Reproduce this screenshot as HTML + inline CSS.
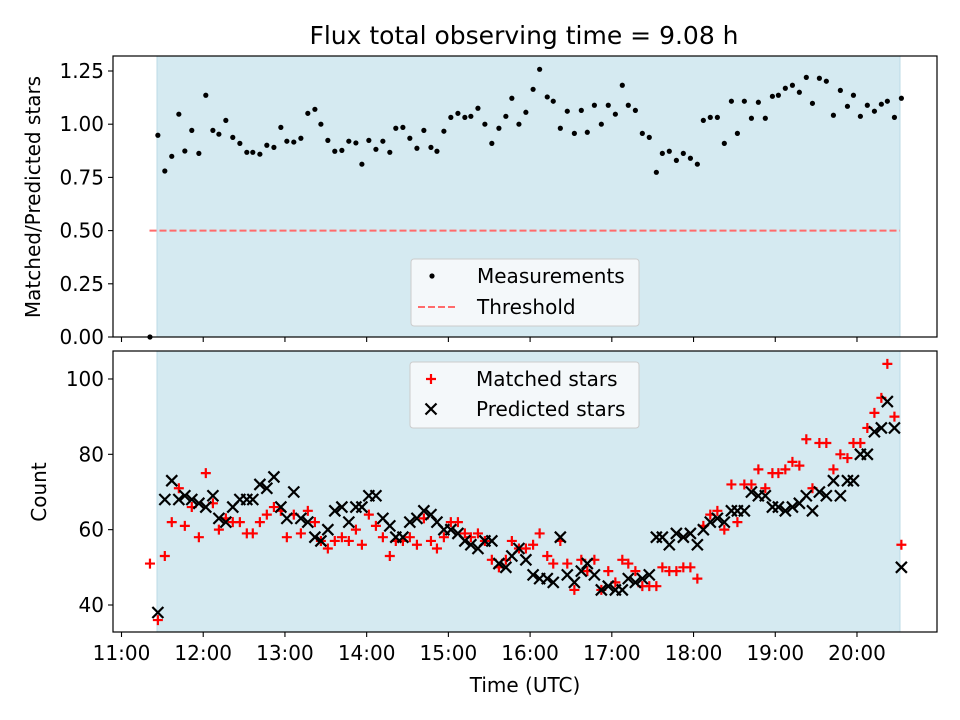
<!DOCTYPE html>
<html><head><meta charset="utf-8"><style>
html,body{margin:0;padding:0;background:#fff;}
svg{display:block;font-family:"DejaVu Sans","Liberation Sans",sans-serif;}
</style></head><body>
<svg id="chart" width="960" height="720" viewBox="0 0 960 720" xmlns="http://www.w3.org/2000/svg">
<text x="524" y="44" font-size="25" text-anchor="middle">Flux total observing time = 9.08 h</text>
<g id="gtop"></g>
<g id="gbot"></g>
<text transform="translate(40,197) rotate(-90)" font-size="20" text-anchor="middle">Matched/Predicted stars</text>
<text transform="translate(46,492) rotate(-90)" font-size="20" text-anchor="middle">Count</text>
<text x="525" y="692" font-size="20" text-anchor="middle">Time (UTC)</text>
</svg>
<script>
// minutes after 11:00
const times = [26.7,31.8,36.9,42.1,46.5,51.6,56.8,61.9,67.1,71.5,76.6,81.7,86.9,92.0,96.4,101.6,106.7,111.9,117.0,121.4,126.5,131.7,136.8,142.0,146.4,151.5,156.6,161.8,166.9,172.1,176.5,181.6,186.8,191.9,197.0,201.4,206.6,211.7,216.9,222.0,227.2,231.6,236.7,241.8,247.0,252.1,256.5,261.7,266.8,271.9,277.1,282.2,286.6,291.8,296.9,302.2,307.0,312.6,317.0,322.2,327.3,332.5,337.6,342.0,347.2,352.3,357.4,362.6,367.7,372.1,377.3,382.4,387.5,392.7,397.1,402.2,407.4,412.5,417.7,422.8,427.2,432.3,437.5,442.6,447.8,452.2,457.3,462.5,467.6,472.7,477.9,482.3,487.4,492.6,497.7,502.8,507.3,512.4,517.5,522.7,527.8,533.0,537.4,542.5,547.6,552.8,557.9,562.3,567.5,572.6];
const ratios = [0.948,0.78,0.849,1.047,0.874,0.971,0.863,1.136,0.971,0.953,1.018,0.938,0.910,0.868,0.868,0.859,0.901,0.891,0.985,0.920,0.916,0.934,1.051,1.070,1.000,0.924,0.873,0.877,0.920,0.912,0.812,0.924,0.882,0.920,0.868,0.981,0.985,0.934,0.887,0.971,0.891,0.873,0.967,1.032,1.051,1.032,1.037,1.075,1.000,0.910,0.981,1.037,1.122,1.000,1.056,1.164,1.258,1.128,1.108,0.981,1.061,0.957,1.065,0.962,1.089,1.000,1.089,1.047,1.183,1.089,1.065,0.957,0.938,0.774,0.863,0.873,0.830,0.863,0.840,0.812,1.018,1.032,1.032,0.910,1.108,0.957,1.108,1.028,1.103,1.028,1.131,1.136,1.169,1.183,1.150,1.220,1.098,1.216,1.202,1.042,1.159,1.084,1.136,1.037,1.089,1.061,1.094,1.108,1.032,1.122];
const predicted = [38,68,73,68,69,68,67,66,69,63,62,66,68,68,68,72,71,74,66,63,70,63,62,58,57,60,65,66,62,66,66,69,69,63,61,58,58,62,63,65,64,62,60,60,59,57,56,55,57,57,51,50,53,55,52,48,47,47,46,58,48,46,49,51,48,44,45,44,44,47,46,47,48,58,58,56,59,58,59,56,60,62,63,62,65,65,65,70,69,69,66,66,65,66,67,69,65,70,69,73,69,73,73,80,80,86,87,94,87,50];
const matched = [36,53,62,71,61,66,58,75,67,60,63,62,62,59,59,62,64,66,65,58,64,59,65,62,57,55,57,58,57,60,56,64,61,58,53,57,57,58,56,63,57,55,58,62,62,59,58,59,57,52,50,52,57,55,55,56,59,53,51,57,51,44,52,49,52,44,49,46,52,51,49,45,45,45,50,49,49,50,50,47,61,64,65,60,72,62,72,72,76,71,75,75,76,78,77,84,71,83,83,76,80,79,83,83,87,91,95,104,90,56];
const extraTime = 20.9, extraRatio = 0.0, extraMatched = 51;
const threshold = 0.5;
const xTickLabels = ["11:00","12:00","13:00","14:00","15:00","16:00","17:00","18:00","19:00","20:00"];
const topTicks = [0,0.25,0.5,0.75,1.0,1.25];
const botTicks = [40,60,80,100];

{
const NS="http://www.w3.org/2000/svg";
const X=m=>121.5+m/60*81.72;
const YT=v=>337-v*212.8;
const YB=c=>605-(c-40)*3.767;
function mk(p,tag,at){const e=document.createElementNS(NS,tag);for(const k in at)e.setAttribute(k,at[k]);p.appendChild(e);return e;}
const gTop=document.getElementById('gtop'), gBot=document.getElementById('gbot');

function panel(g,y0,y1,nm){
  let r=mk(g,'rect',{x:157,y:y0,width:743,height:y1-y0,fill:'#d5eaf1',stroke:'#bcdbe6','stroke-width':1});
  
  
}
panel(gTop,56,337,'top');
panel(gBot,351,632,'bottom');

let th=mk(gTop,'line',{x1:149.5,x2:900,y1:YT(threshold),y2:YT(threshold),stroke:'#ff6b6b','stroke-width':2,'stroke-dasharray':'7,3'});



function dot(t,v){let c=mk(gTop,'circle',{cx:X(t),cy:YT(v),r:2.6,fill:'#000'});
  
  }
dot(extraTime,extraRatio);
times.forEach((t,i)=>dot(t,ratios[i]));

function plus(t,c){const x=X(t),y=YB(c);
  let p=mk(gBot,'path',{d:`M${x-5} ${y}H${x+5}M${x} ${y-5}V${y+5}`,stroke:'#f00','stroke-width':2.2,fill:'none'});
  
  }
function cross(t,c){const x=X(t),y=YB(c),s=5.5;
  let p=mk(gBot,'path',{d:`M${x-s} ${y-s}L${x+s} ${y+s}M${x-s} ${y+s}L${x+s} ${y-s}`,stroke:'#000','stroke-width':2.2,fill:'none'});
  
  }
plus(extraTime,extraMatched);
times.forEach((t,i)=>plus(t,matched[i]));
times.forEach((t,i)=>cross(t,predicted[i]));

[[56,337],[351,632]].forEach(([a,b],k)=>{
  let f=mk(k?gBot:gTop,'rect',{x:113,y:a,width:824,height:b-a,fill:'none',stroke:'#000','stroke-width':1.2});
  
  
});

xTickLabels.forEach((lab,i)=>{
  const x=X(i*60);
  [337,632].forEach(yy=>{let l=mk(yy==337?gTop:gBot,'line',{x1:x,x2:x,y1:yy,y2:yy+5,stroke:'#000','stroke-width':1.1});
    
    });
  let t=mk(gBot,'text',{x:x,y:660,'font-size':20,'text-anchor':'middle'});t.textContent=lab;
  
  
});
topTicks.forEach(v=>{const y=YT(v);
  let l=mk(gTop,'line',{x1:108,x2:113,y1:y,y2:y,stroke:'#000','stroke-width':1.1});
  
  
  let t=mk(gTop,'text',{x:104,y:y+7,'font-size':20,'text-anchor':'end'});t.textContent=v.toFixed(2);
  
  });
botTicks.forEach(v=>{const y=YB(v);
  let l=mk(gBot,'line',{x1:108,x2:113,y1:y,y2:y,stroke:'#000','stroke-width':1.1});
  
  
  let t=mk(gBot,'text',{x:104,y:y+7,'font-size':20,'text-anchor':'end'});t.textContent=v;
  
  });

function legend(g,x,y,w,h,nm){let r=mk(g,'rect',{x:x,y:y,width:w,height:h,rx:3,fill:'#f4f8fa',stroke:'#ccc'});
  
  }
legend(gTop,411,259,228,67,'top-legend');
legend(gBot,410,362,229,66,'bottom-legend');
function ltext(g,x,y,s,nm){let t=mk(g,'text',{x:x,y:y,'font-size':20});t.textContent=s;
  
  }
let ld=mk(gTop,'circle',{cx:432,cy:276,r:2.6,fill:'#000'});


ltext(gTop,477,283,'Measurements','legend-measurements-label');
let ll=mk(gTop,'line',{x1:418,x2:458,y1:307,y2:307,stroke:'#ff6b6b','stroke-width':2,'stroke-dasharray':'7,3'});


ltext(gTop,477,314,'Threshold','legend-threshold-label');
let lp=mk(gBot,'path',{d:'M426 379H436M431 374V384',stroke:'#f00','stroke-width':2.2});


ltext(gBot,476,386,'Matched stars','legend-matched-label');
let lx=mk(gBot,'path',{d:'M425.5 403.5L436.5 414.5M425.5 414.5L436.5 403.5',stroke:'#000','stroke-width':2.2});


ltext(gBot,476,416,'Predicted stars','legend-predicted-label');
}
</script>
</body></html>
